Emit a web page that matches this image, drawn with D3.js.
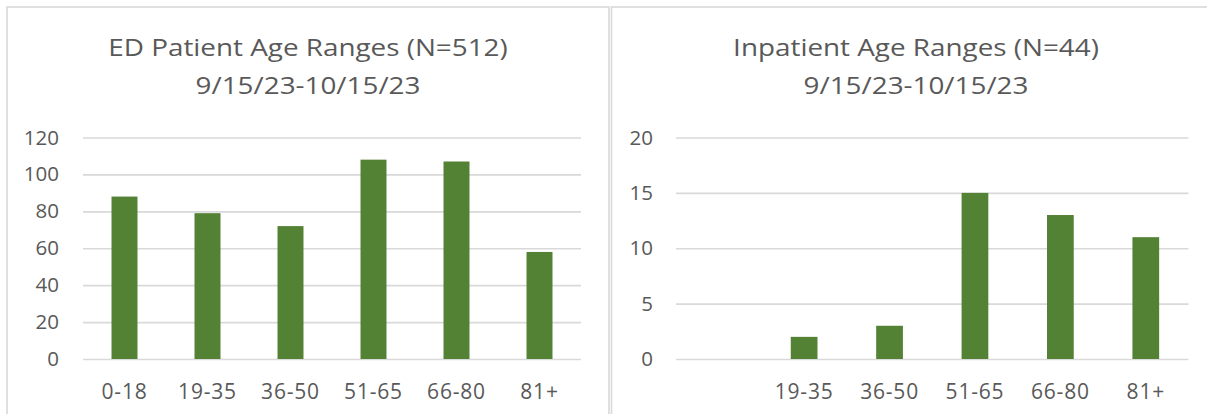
<!DOCTYPE html>
<html>
<head>
<meta charset="utf-8">
<script src="https://cdn.jsdelivr.net/npm/d3@7"></script>
<style>
  html, body { margin: 0; padding: 0; background: #fff; }
  svg { display: block; }
  text { font-family: "Open Sans", Lato, sans-serif; fill: #595959; }
</style>
</head>
<body>
<svg id="chart" width="1207" height="414"></svg>
<script>
// Age range categories and counts for each panel
const edCategories = ["0-18", "19-35", "36-50", "51-65", "66-80", "81+"];
const edValues = [88, 79, 72, 108, 107, 58];
const edTicks = [0, 20, 40, 60, 80, 100, 120];
const edTitle = ["ED Patient Age Ranges (N=512)", "9/15/23-10/15/23"];

const ipCategories = ["", "19-35", "36-50", "51-65", "66-80", "81+"];
const ipValues = [null, 2, 3, 15, 13, 11];
const ipTicks = [0, 5, 10, 15, 20];
const ipTitle = ["Inpatient Age Ranges (N=44)", "9/15/23-10/15/23"];

const svg = d3.select("#chart");
const gridColor = "#d9d9d9";
const barColor = "#548235";

// panel frames
svg.append("rect").attr("x", 7).attr("y", 7).attr("width", 602).attr("height", 440)
  .attr("fill", "none").attr("stroke", gridColor).attr("stroke-width", 1.6);
svg.append("rect").attr("x", 611.5).attr("y", 7).attr("width", 640).attr("height", 440)
  .attr("fill", "none").attr("stroke", gridColor).attr("stroke-width", 1.6);

function drawPanel(cfg) {
  const g = svg.append("g");
  const idx = cfg.categories.map((_, i) => i);

  const x = d3.scaleBand().domain(idx).range([cfg.left, cfg.right])
    .paddingInner(0.687).paddingOuter(0.3435);
  const y = d3.scaleLinear().domain([0, cfg.max]).range([cfg.bottom, cfg.top]);

  // two-line title, widened slightly
  const tg = g.append("g").attr("transform", `translate(${cfg.titleX},${cfg.titleY}) scale(1.16,1)`);
  tg.selectAll("text").data(cfg.title).join("text")
    .attr("x", 0)
    .attr("y", (d, i) => i * 38)
    .attr("text-anchor", "middle")
    .style("font-size", "24px")
    .text(d => d);

  // gridlines + y labels
  const yAxis = d3.axisLeft(y).tickValues(cfg.ticks)
    .tickSizeInner(-(cfg.right - cfg.left)).tickSizeOuter(0).tickPadding(cfg.pad)
    .tickFormat(d3.format("d"));
  const ya = g.append("g").attr("transform", `translate(${cfg.left},0)`).call(yAxis);
  ya.select(".domain").remove();
  ya.selectAll(".tick line").attr("stroke", gridColor).attr("stroke-width", 1.6);
  ya.selectAll(".tick text").attr("fill", "#595959").style("font-size", "20.5px")
    .attr("font-family", null);

  // bars
  g.selectAll("rect.bar").data(idx.filter(i => cfg.values[i] != null)).join("rect")
    .attr("class", "bar")
    .attr("x", i => x(i))
    .attr("width", x.bandwidth())
    .attr("y", i => y(cfg.values[i]))
    .attr("height", i => y(0) - y(cfg.values[i]))
    .attr("fill", barColor);

  // x labels
  const xAxis = d3.axisBottom(x).tickSize(0).tickPadding(0)
    .tickFormat(i => cfg.categories[i]);
  const xa = g.append("g").attr("transform", `translate(0,${cfg.bottom})`).call(xAxis);
  xa.select(".domain").remove();
  xa.selectAll(".tick text").attr("fill", "#595959").style("font-size", "21px")
    .style("letter-spacing", "0.8px")
    .attr("font-family", null).attr("dy", null).attr("y", 39.5);
}

drawPanel({
  categories: edCategories, values: edValues, ticks: edTicks, max: 120, title: edTitle,
  left: 83, right: 581, top: 137.5, bottom: 359, pad: 24, titleX: 308, titleY: 56
});
drawPanel({
  categories: ipCategories, values: ipValues, ticks: ipTicks, max: 20, title: ipTitle,
  left: 676, right: 1188.5, top: 137.5, bottom: 359, pad: 23, titleX: 916, titleY: 56
});
</script>
</body>
</html>
